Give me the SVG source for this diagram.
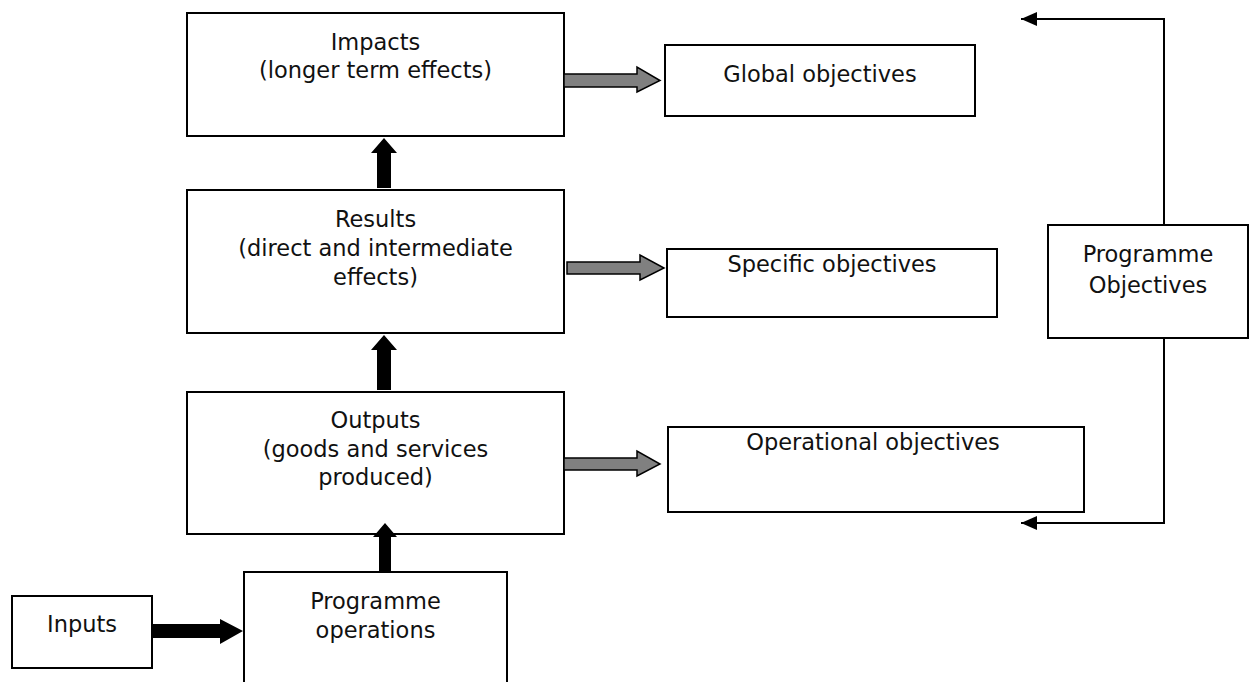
<svg xmlns="http://www.w3.org/2000/svg" width="1250" height="682" viewBox="0 0 1250 682">
<style>
.box{fill:#fff;stroke:#000;stroke-width:2}
.t{font-family:"DejaVu Sans",sans-serif;font-size:22.5px;fill:#111;text-anchor:middle}
.gray{fill:#808080;stroke:#000;stroke-width:1.5;stroke-linejoin:miter}
.blk{fill:#000;stroke:none}
.line{fill:none;stroke:#000;stroke-width:2}
</style>
<defs>
<marker id="ah" markerWidth="16" markerHeight="14" refX="16" refY="7" orient="auto" markerUnits="userSpaceOnUse">
<path d="M0,0 L16,7 L0,14 Z" fill="#000"/>
</marker>
</defs>
<rect width="1250" height="682" fill="#fff"/>
<g id="impacts"><rect class="box" x="187" y="13" width="377" height="123"/>
<text class="t" x="375.5" y="50">Impacts</text><text class="t" x="375.5" y="78">(longer term effects)</text></g>
<g id="results"><rect class="box" x="187" y="190" width="377" height="143"/>
<text class="t" x="375.5" y="227">Results</text><text class="t" x="375.5" y="256">(direct and intermediate</text><text class="t" x="375.5" y="285">effects)</text></g>
<g id="outputs"><rect class="box" x="187" y="392" width="377" height="142"/>
<text class="t" x="375.5" y="428">Outputs</text><text class="t" x="375.5" y="457">(goods and services</text><text class="t" x="375.5" y="485">produced)</text></g>
<g id="operations"><rect class="box" x="244" y="572" width="263" height="130"/>
<text class="t" x="375.5" y="609">Programme</text><text class="t" x="375.5" y="638">operations</text></g>
<g id="inputs"><rect class="box" x="12" y="596" width="140" height="72"/>
<text class="t" x="82" y="632">Inputs</text></g>
<g id="global"><rect class="box" x="665" y="45" width="310" height="71"/>
<text class="t" x="820" y="82">Global objectives</text></g>
<g id="specific"><rect class="box" x="667" y="249" width="330" height="68"/>
<text class="t" x="832" y="272">Specific objectives</text></g>
<g id="operational"><rect class="box" x="668" y="427" width="416" height="85"/>
<text class="t" x="873" y="450">Operational objectives</text></g>
<g id="programme-objectives"><rect class="box" x="1048" y="225" width="200" height="113"/>
<text class="t" x="1148" y="262">Programme</text><text class="t" x="1148" y="293">Objectives</text></g>
<g id="connectors">
<polygon class="gray" points="564,74 637,74 637,67 660,80.5 637,92 637,87 564,87"/>
<polygon class="gray" points="567,262 640,262 640,255 664,268 640,280 640,274 567,274"/>
<polygon class="gray" points="564,458 637,458 637,451 660,464 637,476 637,470 564,470"/>
<polygon class="blk" points="377,188 377,153 371,153 384,138 397,153 391,153 391,188"/>
<polygon class="blk" points="377,390 377,350 371,350 384,335 397,350 391,350 391,390"/>
<polygon class="blk" points="379,572 379,537 373,537 385,523 397,537 391,537 391,572"/>
<polygon class="blk" points="152,624 220,624 220,619 243,631 220,644 220,638 152,638"/>
<path class="line" d="M1164,225 V19 H1021" marker-end="url(#ah)"/>
<path class="line" d="M1164,338 V523 H1021" marker-end="url(#ah)"/>
</g>
</svg>
